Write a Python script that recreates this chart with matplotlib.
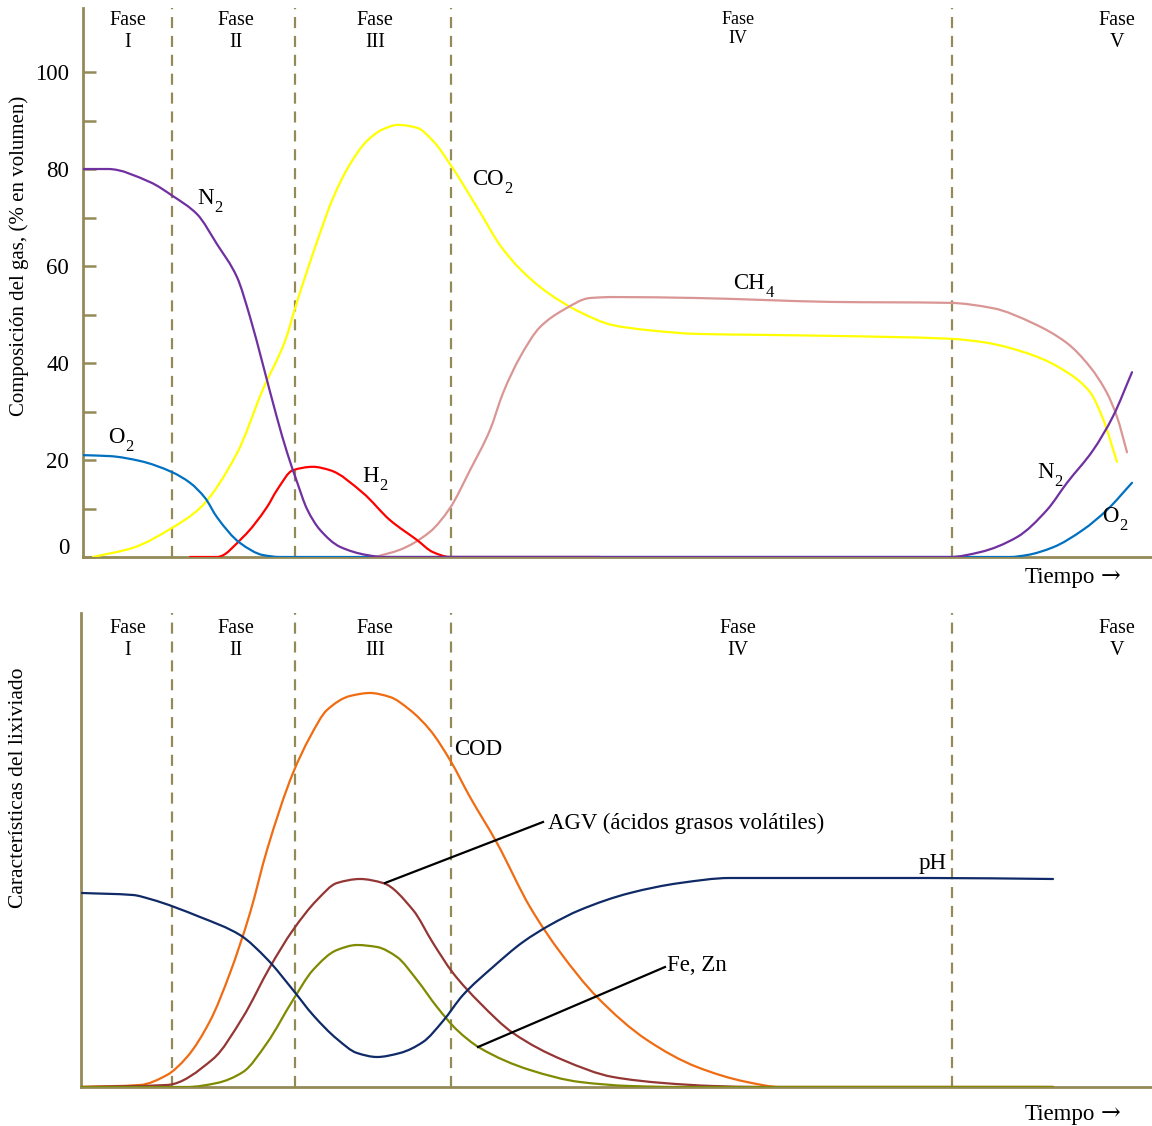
import numpy as np
import matplotlib
matplotlib.use("Agg")
import matplotlib.pyplot as plt
import matplotlib.transforms as mtransforms
from matplotlib.path import Path
from matplotlib.patches import PathPatch

plt.rcParams['font.family'] = ['Liberation Serif', 'DejaVu Serif']

# ---- datos (eje x: tiempo en unidades arbitrarias) ----
limites_fase = [172, 295, 451, 952]
fases = ['I', 'II', 'III', 'IV', 'V']
centros_fase = [128, 236, 375, 738, 1117]

# Composición del gas (% en volumen)
n2_x = [83, 108, 150, 173, 197, 217, 237, 250, 263, 277, 287, 297, 307, 320, 340, 367, 383, 700, 950, 980, 1017, 1047, 1067, 1093, 1113, 1132]
n2_y = [80, 80, 77.3, 74.4, 70.7, 64.5, 57.7, 49.5, 39.6, 28.7, 21.6, 15.5, 9.9, 5.6, 2.1, 0.4, 0, 0, 0, 1, 4.1, 9.7, 15.3, 22, 29, 38.1]

o2_x = [83, 110, 140, 172, 190, 205, 217, 240, 263, 280, 600, 1010, 1027, 1053, 1083, 1107, 1132]
o2_y = [21, 20.8, 19.8, 17.5, 15.3, 12.2, 8.2, 2.9, 0.4, 0, 0, 0, 0.4, 2, 5.6, 9.7, 15.3]

co2_x = [93, 133, 172, 200, 237, 263, 285, 297, 317, 333, 350, 367, 383, 398, 417, 433, 452, 480, 500, 520, 547, 580, 613, 647, 697, 763, 830, 950, 983, 1033, 1067, 1090, 1103, 1117]
co2_y = [0, 1.9, 6, 10.1, 21.4, 34.6, 44.5, 52.6, 65, 74, 81, 85.8, 88.2, 89.1, 88.5, 85.8, 80.4, 71.1, 64.3, 59.4, 54.6, 50.5, 47.8, 46.8, 46, 45.8, 45.6, 45, 44.3, 41.6, 38.1, 34, 28.5, 19.6]

h2_x = [190, 217, 243, 267, 277, 293, 313, 330, 363, 390, 417, 433, 450, 600]
h2_y = [0, 0, 4.1, 10.3, 13.8, 17.9, 18.6, 17.9, 13.2, 7.6, 3.5, 1, 0, 0]

ch4_x = [375, 400, 430, 450, 470, 490, 503, 520, 540, 563, 590, 613, 697, 763, 830, 950, 993, 1033, 1067, 1090, 1107, 1117, 1127]
ch4_y = [0, 1.5, 5.2, 10.1, 17.9, 26.2, 33.8, 41.2, 47.4, 50.9, 53.4, 53.6, 53.4, 53, 52.6, 52.4, 51.3, 48.2, 44.1, 39.2, 33.8, 28.9, 21.6]

# Características del lixiviado (unidades relativas)
cod_x = [81, 140, 167, 187, 210, 230, 250, 267, 293, 310, 327, 350, 370, 390, 410, 430, 450, 470, 497, 530, 560, 597, 647, 697, 747, 780, 1053]
cod_y = [0, 2, 12, 30, 66, 114, 174, 237, 314, 350, 377, 391, 394, 390, 377, 357, 327, 290, 244, 180, 135, 90, 47, 20, 5, 0, 0]

agv_x = [81, 167, 213, 243, 270, 293, 317, 337, 360, 383, 413, 433, 453, 480, 513, 563, 613, 663, 713, 760, 1053]
agv_y = [0, 2, 28, 70, 120, 157, 187, 204, 208, 204, 177, 144, 114, 84, 54, 27, 10, 4, 1, 0, 0]

fezn_x = [81, 187, 217, 243, 267, 293, 313, 337, 357, 377, 397, 417, 437, 457, 480, 530, 580, 630, 680, 1053]
fezn_y = [0, 0, 4, 15, 44, 87, 117, 137, 142, 140, 130, 107, 80, 57, 39, 17, 5, 1, 0, 0]

ph_x = [82, 133, 150, 200, 240, 267, 293, 313, 337, 357, 377, 400, 423, 443, 463, 493, 523, 550, 580, 630, 680, 730, 797, 930, 1053]
ph_y = [194, 192, 188, 170, 152, 128, 97, 72, 48, 34, 30, 34, 45, 66, 92, 120, 145, 162, 177, 194, 204, 209, 209, 209, 208]

# líneas guía de las etiquetas (inicio en curva, fin en texto)
guia_agv = [(385, 204), (543, 265)]
guia_fezn = [(478, 40), (665, 120)]


# curva suave que pasa por los puntos leídos (Hermite que conserva la forma)
def curva(ax, xs, ys, color, lw=1.6):
    x = np.asarray(xs, float)
    y = np.asarray(ys, float)
    h = np.diff(x)
    d = np.diff(y) / h
    m = np.zeros_like(y)
    m[0], m[-1] = d[0], d[-1]
    for i in range(1, len(x) - 1):
        if d[i - 1] * d[i] > 0:
            w1 = 2 * h[i] + h[i - 1]
            w2 = h[i] + 2 * h[i - 1]
            m[i] = (w1 + w2) / (w1 / d[i - 1] + w2 / d[i])
    verts = [(x[0], y[0])]
    codes = [Path.MOVETO]
    for i in range(len(x) - 1):
        verts += [(x[i] + h[i] / 3, y[i] + m[i] * h[i] / 3),
                  (x[i + 1] - h[i] / 3, y[i + 1] - m[i + 1] * h[i] / 3),
                  (x[i + 1], y[i + 1])]
        codes += [Path.CURVE4] * 3
    ax.add_patch(PathPatch(Path(verts, codes), fill=False, edgecolor=color,
                           lw=lw, zorder=3, capstyle='round', joinstyle='round'))


def etiqueta(ax, x, y, principal, sub=None, fs=16.5):
    t = ax.text(x, y, principal, fontsize=fs, va='baseline')
    if sub:
        ax.annotate(sub, xy=(1, 0), xycoords=t, xytext=(0.8, 0.5),
                    textcoords='offset points', fontsize=12, va='center', ha='left')
    return t


# ---- figura ----
c_eje = '#948a58'
fig = plt.figure(figsize=(11.52, 11.26), dpi=100)

ax1 = fig.add_axes([83/1152, (1126-557)/1126, (1152-83)/1152, (557-8)/1126])
ax2 = fig.add_axes([81/1152, (1126-1087)/1126, (1152-81)/1152, (1087-613)/1126])

for ax in (ax1, ax2):
    for s in ('top', 'right'):
        ax.spines[s].set_visible(False)
    for s in ('left', 'bottom'):
        ax.spines[s].set_color(c_eje)
        ax.spines[s].set_linewidth(2)
    ax.set_xticks([])
    ax.patch.set_alpha(0)
    for xb in limites_fase:
        ax.axvline(xb, color=c_eje, lw=1.6, ls=(0, (5, 3.5)), zorder=1)

ax1.set_xlim(83, 1152)
ax1.set_ylim(0, 113.2)
ax1.set_yticks([0, 20, 40, 60, 80, 100])
ax1.set_yticks([10, 30, 50, 70, 90], minor=True)
ax1.tick_params(axis='y', which='both', direction='in', length=9, width=1.8,
                color=c_eje, labelsize=16.5, pad=10)
# el 0 va un poco más arriba
for lab in ax1.get_yticklabels():
    if lab.get_text() == '0':
        lab.set_transform(lab.get_transform() + mtransforms.ScaledTranslation(0, 0.11, fig.dpi_scale_trans))

curva(ax1, co2_x, co2_y, '#ffff00')
curva(ax1, ch4_x, ch4_y, '#d99694')
curva(ax1, h2_x, h2_y, '#ff0000')
curva(ax1, o2_x, o2_y, '#0070c0')
curva(ax1, n2_x, n2_y, '#7030a0')

ax2.set_xlim(81, 1152)
ax2.set_ylim(0, 474)
ax2.set_yticks([])

curva(ax2, cod_x, cod_y, '#ef6c12')
curva(ax2, agv_x, agv_y, '#943634')
curva(ax2, fezn_x, fezn_y, '#808a00')
curva(ax2, ph_x, ph_y, '#0f2a66')
for g in (guia_agv, guia_fezn):
    ax2.plot([g[0][0], g[1][0]], [g[0][1], g[1][1]], color='black', lw=1.6, zorder=4)

# etiquetas de fase
tr1 = mtransforms.blended_transform_factory(ax1.transData, ax1.transAxes)
tr2 = mtransforms.blended_transform_factory(ax2.transData, ax2.transAxes)
for xc, f in zip(centros_fase, fases):
    fs = 13 if f == 'IV' else 14.5
    yy = 0.962 if f == 'IV' else 0.957
    ax1.text(xc, yy, 'Fase\n' + f, transform=tr1, ha='center', va='center',
             fontsize=fs, linespacing=1.2)
    ax2.text(xc, 0.944, 'Fase\n' + f, transform=tr2, ha='center', va='center',
             fontsize=14.5, linespacing=1.2)


# etiquetas de curvas
def px1(y):
    return (557 - y) / 4.85


etiqueta(ax1, 197, px1(204), 'N', '2')
etiqueta(ax1, 472, px1(185), 'CO', '2')
etiqueta(ax1, 733, px1(289), 'CH', '4')
etiqueta(ax1, 362, px1(482), 'H', '2')
etiqueta(ax1, 108, px1(443), 'O', '2')
etiqueta(ax1, 1037, px1(478), 'N', '2')
etiqueta(ax1, 1102, px1(522), 'O', '2')

etiqueta(ax2, 454, 1087 - 755, 'COD')
etiqueta(ax2, 548, 1087 - 829, 'AGV (ácidos grasos volátiles)')
etiqueta(ax2, 919, 1087 - 869, 'pH')
etiqueta(ax2, 667, 1087 - 971, 'Fe, Zn')

for yb in (583, 1120):
    fig.text(1025/1152, 1 - yb/1126, 'Tiempo', ha='left', va='baseline', fontsize=16.5)
    fig.text(1101/1152, 1 - yb/1126, '→', ha='left', va='baseline', fontsize=17,
             family=['DejaVu Serif'])

fig.text(19/1152, 1 - 256/1126, 'Composición del gas, (% en volumen)', rotation=90,
         ha='center', va='center', fontsize=15)
fig.text(19/1152, 1 - 788/1126, 'Características del lixiviado', rotation=90,
         ha='center', va='center', fontsize=15.5)

fig.savefig('out.png', dpi=100, facecolor='white')
